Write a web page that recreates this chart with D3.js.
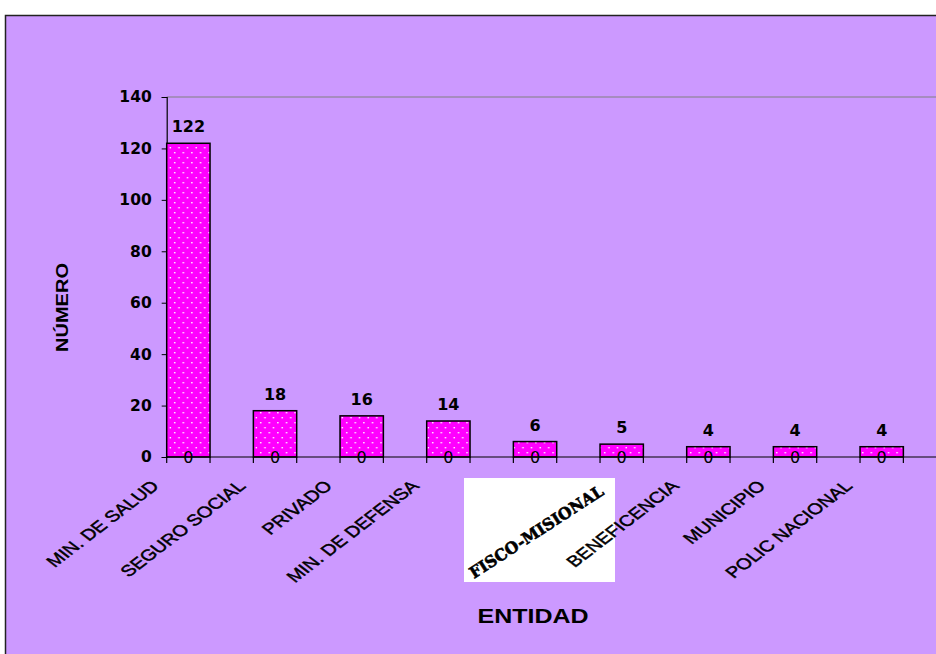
<!DOCTYPE html>
<html>
<head>
<meta charset="utf-8">
<script src="https://cdn.jsdelivr.net/npm/d3@7"></script>
<style>
  html, body { margin: 0; padding: 0; background: #ffffff; }
  svg { display: block; }
</style>
</head>
<body>
<script>
// ---- data ----
const categories = ["MIN. DE SALUD", "SEGURO SOCIAL", "PRIVADO", "MIN. DE DEFENSA", "", "", "BENEFICENCIA", "MUNICIPIO", "POLIC NACIONAL"];
const values = [122, 18, 16, 14, 6, 5, 4, 4, 4];
const zeroSeries = [0, 0, 0, 0, 0, 0, 0, 0, 0];
const yTicks = [0, 20, 40, 60, 80, 100, 120, 140];
const overlayLabel = "FISCO-MISIONAL";
const xTitle = "ENTIDAD";
const yTitle = "NÚMERO";

const W = 936, H = 654;
const svg = d3.select("body").append("svg").attr("width", W).attr("height", H);

// pattern for bars
const defs = svg.append("defs");
const pat = defs.append("pattern").attr("id", "dots").attr("patternUnits", "userSpaceOnUse")
  .attr("width", 8.6).attr("height", 10);
pat.append("rect").attr("width", 8.6).attr("height", 10).attr("fill", "#ff00ff");
pat.append("rect").attr("x", 2).attr("y", 2).attr("width", 1.4).attr("height", 1.4).attr("fill", "#ffffff");
pat.append("rect").attr("x", 6.3).attr("y", 7).attr("width", 1.4).attr("height", 1.4).attr("fill", "#ffffff");

// chart area background + frame
svg.append("rect").attr("x", 5.5).attr("y", 15.5).attr("width", W + 10).attr("height", H + 10)
  .attr("fill", "#cc99ff").attr("stroke", "#222222").attr("stroke-width", 1.5);

// scales
const idx = d3.range(categories.length);
const x = d3.scaleBand().domain(idx).range([166.7, 946.7]).padding(0);
const y = d3.scaleLinear().domain([0, 140]).range([457, 97]);
const bw = x.bandwidth() / 2;

// top gridline (140)
svg.append("line").attr("x1", x.range()[0]).attr("x2", W).attr("y1", y(140)).attr("y2", y(140))
  .attr("stroke", "#808080").attr("stroke-width", 1.2);

// y axis
const yAxis = d3.axisLeft(y).tickValues(yTicks).tickSize(5).tickPadding(10).tickFormat(d3.format("d"));
const gy = svg.append("g").attr("transform", `translate(${x.range()[0]},0)`).call(yAxis);
gy.select(".domain").attr("stroke", "#000").attr("stroke-width", 1.2);
gy.selectAll(".tick line").attr("stroke", "#000").attr("stroke-width", 1);
gy.selectAll(".tick text").attr("font-family", "DejaVu Sans, sans-serif").attr("font-weight", "bold")
  .attr("font-size", 15.5).attr("fill", "#000");

// bars
svg.append("g").selectAll("rect").data(values).join("rect")
  .attr("x", (d, i) => x(i))
  .attr("y", d => y(d))
  .attr("width", bw)
  .attr("height", d => y(0) - y(d))
  .attr("fill", "url(#dots)")
  .attr("stroke", "#000").attr("stroke-width", 1.5);

// x axis line
svg.append("line").attr("x1", x.range()[0]).attr("x2", W).attr("y1", y(0)).attr("y2", y(0))
  .attr("stroke", "#000").attr("stroke-width", 1.2);
// x tick marks at bar edges
const edges = [];
idx.forEach(i => { edges.push(x(i)); edges.push(x(i) + bw); });
svg.append("g").selectAll("line").data(edges).join("line")
  .attr("x1", d => d).attr("x2", d => d).attr("y1", y(0)).attr("y2", y(0) + 6)
  .attr("stroke", "#000").attr("stroke-width", 1.2);

// value labels
svg.append("g").selectAll("text").data(values).join("text")
  .attr("x", (d, i) => x(i) + bw / 2)
  .attr("y", d => y(d) - 11)
  .attr("text-anchor", "middle")
  .attr("font-family", "DejaVu Sans, sans-serif").attr("font-weight", "bold").attr("font-size", 16)
  .attr("fill", "#000").text(d => d);

// zero series labels
svg.append("g").selectAll("text").data(zeroSeries).join("text")
  .attr("x", (d, i) => x(i) + bw / 2)
  .attr("y", (d) => y(d) + 6)
  .attr("text-anchor", "middle")
  .attr("font-family", "DejaVu Sans, sans-serif").attr("font-size", 16)
  .attr("fill", "#000").text(d => d);

// pasted overlay label
svg.append("rect").attr("x", 464).attr("y", 478).attr("width", 151).attr("height", 104).attr("fill", "#ffffff");
svg.append("text")
  .attr("transform", "translate(474,579) rotate(-33)")
  .attr("font-family", "DejaVu Serif, serif").attr("font-weight", "bold").attr("font-size", 16)
  .attr("textLength", 156).attr("lengthAdjust", "spacingAndGlyphs")
  .attr("stroke", "#000").attr("stroke-width", 0.6)
  .attr("fill", "#000").text(overlayLabel);

// category labels (rotated, horizontally stretched)
svg.append("g").selectAll("text").data(categories).join("text")
  .attr("transform", (d, i) => `translate(${x(i) + x.bandwidth() / 2 - 50},${y(0) + 30}) scale(1.3,1) rotate(-45)`)
  .attr("text-anchor", "end")
  .attr("font-family", "Liberation Sans, Arial, sans-serif").attr("font-size", 15.5)
  .attr("stroke", "#000").attr("stroke-width", 0.45)
  .attr("fill", "#000").text(d => d);

// axis titles
svg.append("text").attr("x", 533).attr("y", 623).attr("text-anchor", "middle")
  .attr("font-family", "Liberation Sans, Arial, sans-serif").attr("font-weight", "bold").attr("font-size", 20)
  .attr("textLength", 111).attr("lengthAdjust", "spacingAndGlyphs")
  .attr("fill", "#000").text(xTitle);

svg.append("text").attr("transform", "translate(68,307.5) rotate(-90)").attr("text-anchor", "middle")
  .attr("font-family", "Liberation Sans, Arial, sans-serif").attr("font-weight", "bold").attr("font-size", 17)
  .attr("textLength", 89).attr("lengthAdjust", "spacingAndGlyphs")
  .attr("fill", "#000").text(yTitle);
</script>
</body>
</html>
